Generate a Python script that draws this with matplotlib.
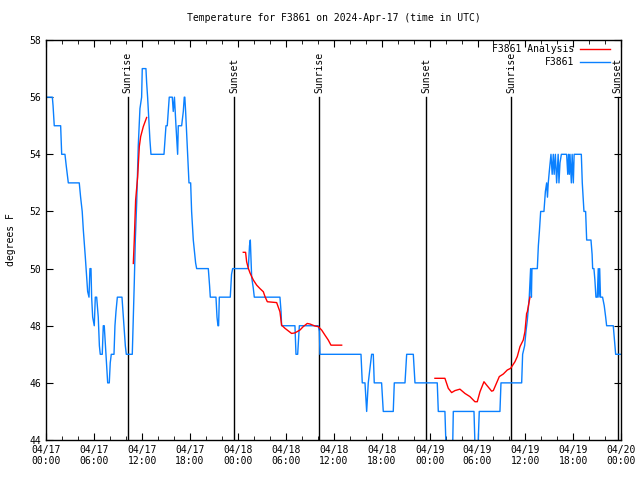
import numpy as np
import matplotlib
matplotlib.use("Agg")
import matplotlib.pyplot as plt
from matplotlib.ticker import MultipleLocator

# hours since 2024-04-17 00:00 UTC
obs_hours = [0.0, 0.76, 0.85, 1.0, 1.8, 1.93, 2.34, 2.5, 2.76, 4.13, 4.3, 4.5, 4.64, 4.76, 4.89,
             5.18, 5.35, 5.47, 5.6, 5.68, 5.81, 6.01, 6.14, 6.31, 6.51, 6.65, 6.76, 7.01, 7.14,
             7.26, 7.43, 7.56, 7.69, 7.89, 8.01, 8.14, 8.48, 8.6, 8.73, 8.9, 9.48, 9.65, 9.9,
             10.02, 10.77, 10.9, 11.02, 11.15, 11.32, 11.52, 11.73, 11.94, 12.02, 12.48, 12.57,
             12.69, 12.98, 13.11, 14.74, 14.99, 15.15, 15.4, 15.78, 15.9, 16.05, 16.24, 16.45,
             16.53, 16.65, 16.95, 17.16, 17.28, 17.35, 17.45, 17.7, 17.87, 18.08, 18.2, 18.35,
             18.41, 18.7, 18.83, 20.29, 20.45, 20.54, 21.25, 21.38, 21.5, 21.58, 21.67, 23.04,
             23.2, 23.34, 25.3, 25.45, 25.55, 25.62, 25.72, 25.93, 26.05, 29.26, 29.4, 29.47,
             31.14, 31.27, 31.48, 31.69, 34.06, 34.2, 34.27, 39.41, 39.57, 39.91, 40.12, 40.32,
             40.53, 40.74, 40.95, 41.07, 41.99, 42.2, 43.45, 43.58, 44.92, 45.13, 45.96, 46.17,
             48.96, 49.09, 49.92, 50.14, 50.84, 50.97, 53.56, 53.77, 53.97, 54.22, 56.81, 56.94,
             59.53, 59.65, 59.9, 60.07, 60.24, 60.48, 60.65, 60.75, 60.82, 61.49, 61.62, 61.75,
             61.91, 62.32, 62.5, 62.66, 62.76, 62.86, 62.99, 63.2, 63.35, 63.49, 63.6, 63.75,
             63.91, 64.1, 64.2, 64.33, 64.5, 65.16, 65.3, 65.4, 65.5, 65.58, 65.75, 65.85, 66.0,
             66.1, 67.0, 67.12, 67.33, 67.54, 67.67, 68.21, 68.35, 68.42, 68.58, 68.7, 68.83,
             69.0, 69.12, 69.2, 69.3, 69.4, 69.66, 69.87, 70.05, 70.17, 71.0, 71.15, 71.3, 72.0]
obs_temp = [56, 56, 55.7, 55, 55, 54, 54, 53.6, 53, 53, 52.5, 52, 51.35, 50.9, 50.4,
            49.2, 49, 50, 50, 49, 48.3, 48, 49, 49, 48.3, 47.3, 47, 47, 48,
            48, 47.2, 46.6, 46, 46, 46.7, 47, 47, 48, 48.5, 49, 49, 48.3, 47.3,
            47, 47, 48.3, 49.5, 51, 52.3, 54.3, 55.6, 56, 57, 57, 56.5,
            56, 54.5, 54, 54, 55, 55, 56, 56, 55.5, 56, 55, 54,
            55, 55, 55, 55.5, 56, 56, 55.5, 54, 53, 53, 52, 51.3,
            51, 50.2, 50, 50, 49.4, 49, 49, 48.3, 48, 48, 49, 49,
            49.8, 50, 50, 50.8, 51, 50.5, 49.7, 49.3, 49, 49, 48.5, 48,
            48, 47, 47, 48, 48, 47.8, 47, 47, 46, 46, 45, 46,
            46.5, 47, 47, 46, 46, 45, 45, 46, 46, 47, 47, 46,
            46, 45, 45, 43, 43, 45, 45, 43, 43, 45, 45, 46,
            46, 47, 47.3, 47.8, 48.2, 49, 50, 49, 50, 50, 50.8, 51.3,
            52, 52, 52.7, 53, 52.5, 53, 53.4, 54, 53.3, 54, 53.3, 54,
            53, 54, 53, 53.7, 54, 54, 53.3, 54, 53.3, 54, 53, 54, 53,
            54, 54, 53, 52, 52, 51, 51, 50.5, 50, 50, 49.6, 49,
            49, 50, 49, 50, 49, 49, 48.7, 48.3, 48, 48, 47.5, 47, 47]

# analysis curve, nan marks the gaps between runs
ana_hours = [10.9, 11.02, 11.19, 11.44, 11.65, 11.82, 12.15, 12.57, np.nan,
             24.67, 24.96, 25.09, 25.3, 25.51, 25.72, 25.93, 26.35, 26.76, 27.18, 27.39,
             27.68, 28.85, 29.26, 29.47, 29.89, 30.72, 31.14, 31.77, 32.18, 32.68, 33.02,
             33.64, 34.06, 34.48, 34.9, 35.31, 35.65, 36.99, np.nan,
             48.67, 49.92, 50.34, 50.76, 51.18, 51.8, 52.43, 53.05, 53.68, 53.97, 54.31,
             54.81, 55.15, 55.77, 55.98, 56.73, 57.23, 57.73, 58.15, 58.69, 58.98, 59.32,
             59.73, 59.94, 60.15, 60.24, 60.57]
ana_temp = [50.18, 51.0, 52.4, 53.2, 54.27, 54.62, 54.97, 55.29, np.nan,
            50.57, 50.57, 50.24, 50.01, 49.85, 49.72, 49.6, 49.42, 49.3, 49.19, 49.02,
            48.84, 48.81, 48.49, 48.02, 47.91, 47.73, 47.75, 47.85, 47.97, 48.08, 48.06,
            47.99, 47.97, 47.85, 47.67, 47.5, 47.32, 47.32, np.nan,
            46.16, 46.16, 45.81, 45.66, 45.73, 45.78, 45.63, 45.52, 45.34, 45.34, 45.69,
            46.04, 45.92, 45.71, 45.73, 46.22, 46.31, 46.45, 46.51, 46.74, 46.92, 47.27,
            47.5, 47.79, 48.43, 48.49, 49.0]

sun_hours = [10.2, 23.55, 34.2, 47.55, 58.2, 71.55]
sun_labels = ["Sunrise", "Sunset", "Sunrise", "Sunset", "Sunrise", "Sunset"]

tick_hours = list(range(0, 73, 6))
tick_labels = ["04/17\n00:00", "04/17\n06:00", "04/17\n12:00", "04/17\n18:00",
               "04/18\n00:00", "04/18\n06:00", "04/18\n12:00", "04/18\n18:00",
               "04/19\n00:00", "04/19\n06:00", "04/19\n12:00", "04/19\n18:00",
               "04/20\n00:00"]

plt.rcParams["font.family"] = ["DejaVu Sans Mono"]
fs = 7

fig = plt.figure(figsize=(6.4, 4.8), dpi=100)
ax = fig.add_axes([0.0723, 0.0833, 0.8984, 0.8333])

ax.plot(ana_hours, ana_temp, color="#ff0000", lw=1.0, label="F3861 Analysis", zorder=3)
ax.plot(obs_hours, obs_temp, color="#0a80ff", lw=1.0, label="F3861", zorder=2)

for h, lab in zip(sun_hours, sun_labels):
    ax.plot([h, h], [44, 56], color="black", lw=1.0, zorder=1)
    ax.text(h, 56.15, lab, rotation=90, ha="center", va="bottom", fontsize=fs,
            clip_on=False)

ax.set_xlim(0, 72)
ax.set_ylim(44, 58)
ax.set_xticks(tick_hours, tick_labels)
ax.xaxis.set_minor_locator(MultipleLocator(2))
ax.yaxis.set_major_locator(MultipleLocator(2))
ax.tick_params(which="both", direction="in", top=True, right=True, labelsize=fs)
ax.tick_params(which="major", length=5)
ax.tick_params(which="minor", length=3)
for s in ax.spines.values():
    s.set_linewidth(1.0)

ax.set_ylabel("degrees F", fontsize=fs, labelpad=10)
ax.set_title("Temperature for F3861 on 2024-Apr-17 (time in UTC)", fontsize=fs, pad=14)
ax.legend(loc="upper right", bbox_to_anchor=(0.980, 0.99), frameon=False, markerfirst=False,
          fontsize=fs, handlelength=3.1, handletextpad=0.6, labelspacing=0.3,
          borderpad=0, borderaxespad=0)

fig.savefig("out.png", dpi=100)
